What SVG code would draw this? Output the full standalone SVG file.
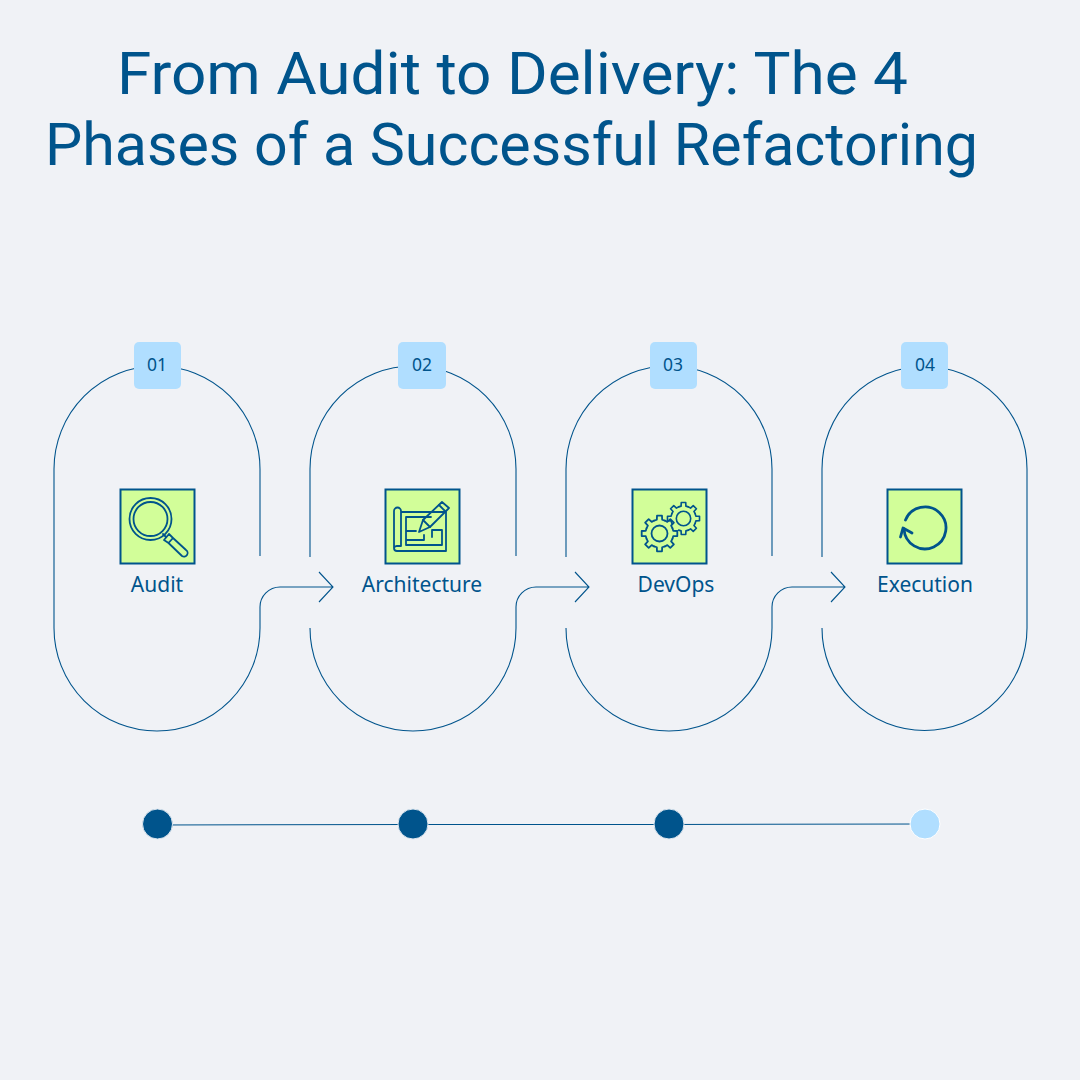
<svg xmlns="http://www.w3.org/2000/svg" xmlns:xlink="http://www.w3.org/1999/xlink" width="1080" height="1080" viewBox="0 0 1080 1080">
<style>
text{font-family:"Noto Sans","Open Sans","Liberation Sans",sans-serif;fill:#00548c}
.title{font-family:Roboto,"Noto Sans",sans-serif;font-size:60px}
.label{font-size:21px;text-anchor:middle}
.num{font-size:17.500px;text-anchor:middle}
.wire{fill:none;stroke:#00548c;stroke-width:1.1}
.badge{fill:#b0deff}
.box{fill:#d2fe99;stroke:#00548c;stroke-width:2}
.ic{fill:none;stroke:#00548c;stroke-width:1.800;stroke-linejoin:round;stroke-linecap:round}
.dot{fill:#00548c;stroke:#dce6ef;stroke-width:1}
</style>
<defs>
<path id="tooth" d="M-5.36-12.93L-2.67-13.74L-2.5-17.8L2.5-17.8L2.67-13.74L5.36-12.93"/>
</defs>
<rect width="1080" height="1080" fill="#f0f2f6"/>
<g id="title">
<text class="title" x="117" y="94" textLength="791" lengthAdjust="spacingAndGlyphs">From Audit to Delivery: The 4</text>
<text class="title" x="45" y="165" textLength="933" lengthAdjust="spacingAndGlyphs">Phases of a Successful Refactoring</text>
</g>
<g id="connectors" class="wire">
<path d="M260 556V469A103 103 0 0 0 54 469V628A103 103 0 0 0 260 628V607A20 20 0 0 1 280 587H333M319 572L333 587L319 602"/>
<path d="M310 557V469A103 103 0 0 1 516 469V556M310 628A103 103 0 0 0 516 628V607A20 20 0 0 1 536 587H589M575 572L589 587L575 602"/>
<path d="M566 557V469A103 103 0 0 1 772 469V556M566 628A103 103 0 0 0 772 628V607A20 20 0 0 1 792 587H845M831 572L845 587L831 602"/>
<path d="M822 557V469A102.500 102.500 0 0 1 1027 469V628A102.500 102.500 0 0 1 822 628"/>
<path d="M157 825L413 824.500L669 824.500L925 824"/>
</g>
<g id="node-1">
<rect class="badge" x="134" y="342" width="47" height="47" rx="5"/>
<text class="num" x="157" y="371">01</text>
<rect class="box" x="120.500" y="489.500" width="74" height="74"/>
<g class="ic">
<circle cx="150.500" cy="519" r="21"/><circle cx="150.500" cy="519" r="17"/>
<path d="M163 534L166 537M169 534L164 540L168.500 543L173 538ZM173 538L186 550A3.500 3.500 0 0 1 182 556L168.500 543"/>
</g>
<text class="label" x="157" y="591.500">Audit</text>
</g>
<g id="node-2">
<rect class="badge" x="398" y="342" width="48" height="47" rx="5"/>
<text class="num" x="422" y="371">02</text>
<rect class="box" x="385.500" y="489.500" width="74" height="74"/>
<g class="ic">
<path d="M401 512H446V551H397A3 3 0 0 1 394 548V511A3 3 0 0 1 401 511V546H397A3 3 0 0 0 394 548"/>
<path d="M431 517H406V545H442V530H432V537M406 531H416M406 540H424V535"/>
<path d="M419 532L423 520L442 502L449 508L430 527Z"/>
<path d="M423 520L430 527M439 505L445 511"/>
</g>
<text class="label" x="422" y="591.500">Architecture</text>
</g>
<g id="node-3">
<rect class="badge" x="650" y="342" width="47" height="47" rx="5"/>
<text class="num" x="673" y="371">03</text>
<rect class="box" x="632.500" y="489.500" width="74" height="74"/>
<g class="ic">
<g transform="translate(659.500 533.500)">
<circle r="8"/>
<use href="#tooth"/>
<use href="#tooth" transform="rotate(45)"/>
<use href="#tooth" transform="rotate(90)"/>
<use href="#tooth" transform="rotate(135)"/>
<use href="#tooth" transform="rotate(180)"/>
<use href="#tooth" transform="rotate(225)"/>
<use href="#tooth" transform="rotate(270)"/>
<use href="#tooth" transform="rotate(315)"/>
</g>
<g transform="translate(683.500 518.500) scale(.9)">
<circle r="8"/>
<use href="#tooth"/>
<use href="#tooth" transform="rotate(45)"/>
<use href="#tooth" transform="rotate(90)"/>
<use href="#tooth" transform="rotate(135)"/>
<use href="#tooth" transform="rotate(180)"/>
<use href="#tooth" transform="rotate(270)"/>
<use href="#tooth" transform="rotate(315)"/>
</g>
</g>
<text class="label" x="676" y="591.500">DevOps</text>
</g>
<g id="node-4">
<rect class="badge" x="901" y="342" width="47" height="47" rx="5"/>
<text class="num" x="925" y="371">04</text>
<rect class="box" x="887.500" y="489.500" width="74" height="74"/>
<g class="ic" style="stroke-width:2.800">
<path d="M905.500 520A21 21 0 1 1 904 529"/>
<path d="M900.500 537L903 528L912 533"/>
</g>
<text class="label" x="925" y="591.500">Execution</text>
</g>
<g id="timeline">
<circle class="dot" cx="157.500" cy="824" r="15"/>
<circle class="dot" cx="413" cy="824" r="15"/>
<circle class="dot" cx="669" cy="824" r="15"/>
<circle class="dot" cx="925" cy="824" r="15" style="fill:#b0deff;stroke:#fff"/>
</g>
</svg>
